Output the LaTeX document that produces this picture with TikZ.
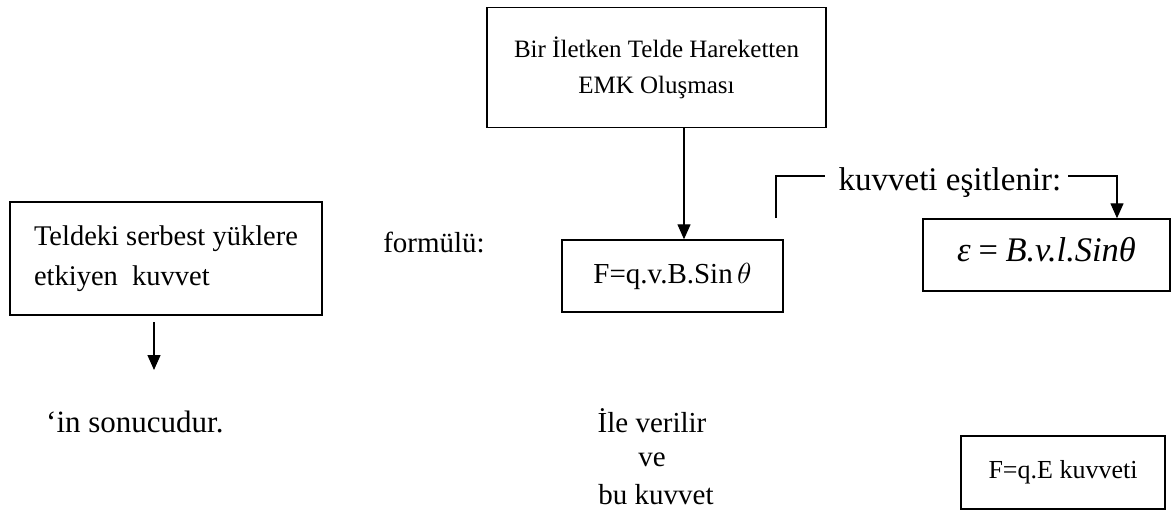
\documentclass[tikz,border=0pt]{standalone}
\usepackage{fontspec}
\setmainfont{Liberation Serif}
\usepackage{unicode-math}
\setmathfont{Latin Modern Math}
\usetikzlibrary{arrows.meta}
\tikzset{
  box/.style={draw, line width=1.4pt, inner sep=0pt, align=center},
  arr/.style={line width=1.3pt, -{Triangle[length=15pt,width=13pt]}},
  conn/.style={line width=1.3pt},
  txt/.style={inner sep=0pt, anchor=base}
}
\begin{document}
\begin{tikzpicture}[x=1pt,y=-1pt]
\useasboundingbox (0,0) rectangle (1175,522);
% top box
\node[box, minimum width=339pt, minimum height=120pt, font=\fontsize{25}{36}\selectfont] (top) at (656.5,67.5)
  {Bir İletken Telde Hareketten\\EMK Oluşması};
% left box
\node[box, align=left, minimum width=312pt, minimum height=113pt, font=\fontsize{28.5}{40}\selectfont] (left) at (166,258.5)
  {Teldeki serbest yüklere\\etkiyen\ \ kuvvet};
% F box
\node[box, minimum width=221pt, minimum height=72pt, font=\fontsize{29}{30}\selectfont] (fbox) at (672.5,276)
  {F=q.v.B.Sin\,$\theta$};
% epsilon box
\node[box, minimum width=247pt, minimum height=72pt, font=\fontsize{34.5}{35}\selectfont] (ebox) at (1046.5,255)
  {\raisebox{12pt}{\textit{ε\,=\,B.v.l.Sinθ}}};
% F=qE box
\node[box, minimum width=204pt, minimum height=73pt, font=\fontsize{26}{30}\selectfont] (qe) at (1063,472.5)
  {F=q.E kuvveti};
% free texts
\node[txt, font=\fontsize{33}{34}\selectfont] (kv) at (950,190) {kuvveti eşitlenir:};
\node[txt, font=\fontsize{29}{30}\selectfont] (form) at (434,252) {formülü:};
\node[txt, font=\fontsize{31}{32}\selectfont, anchor=base west] (son) at (46,432) {‘in sonucudur.};
\node[txt, font=\fontsize{29}{30}\selectfont] (ile) at (652,432) {İle verilir};
\node[txt, font=\fontsize{29}{30}\selectfont] (ve) at (652,466) {ve};
\node[txt, font=\fontsize{29}{30}\selectfont] (bu) at (656,504) {bu kuvvet};
% connectors
\draw[arr] (top.south -| 684,0) -- (fbox.north -| 684,0);
\coordinate (k1) at (776,218);
\coordinate (k2) at (825,176);
\coordinate (k3) at (1068,176);
\draw[conn] (k1) |- (k2);
\draw[arr] (k3) -| (ebox.north -| 1117,0);
\coordinate (l1) at (154,322);
\coordinate (l2) at (154,370);
\draw[arr] (l1) -- (l2);
\end{tikzpicture}
\end{document}
